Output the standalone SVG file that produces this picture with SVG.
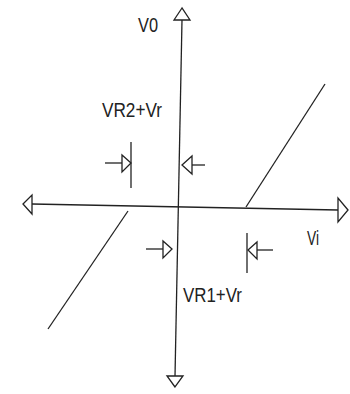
<svg xmlns="http://www.w3.org/2000/svg" width="350" height="394" viewBox="0 0 350 394">
<style>
.ln{stroke:#222;stroke-width:1.3;fill:none}
.ah{stroke:#222;stroke-width:1.3;fill:#fff;stroke-linejoin:miter}
.t{font-family:"Liberation Sans",Arial,sans-serif;font-size:20px;fill:#222}
</style>
<rect width="350" height="394" fill="#fff"/>
<g id="connectors">
<line class="ln" x1="182" y1="20" x2="175" y2="376"/>
<line class="ln" x1="32" y1="204" x2="338" y2="210" stroke-width="1.6"/>
<line class="ln" x1="325" y1="84" x2="246" y2="207"/>
<line class="ln" x1="128" y1="211" x2="48" y2="329"/>
</g>
<g id="axis-arrows">
<polygon class="ah" points="182,8 174,20 190,20"/>
<polygon class="ah" points="175,387 167,376 183,376"/>
<polygon class="ah" points="23,204 32,195 32,214"/>
<polygon class="ah" points="348,210 338,198 338,222"/>
</g>
<g id="marker-ul">
<line class="ln" x1="131" y1="142" x2="131" y2="188"/>
<line class="ln" x1="105" y1="163" x2="122" y2="163"/>
<polygon class="ah" points="131,163 122,155 122,172"/>
</g>
<g id="marker-ur">
<line class="ln" x1="192" y1="165" x2="205" y2="165"/>
<polygon class="ah" points="182,165 192,156 192,174"/>
</g>
<g id="marker-ll">
<line class="ln" x1="146" y1="249" x2="163" y2="249"/>
<polygon class="ah" points="172,249 163,241 163,258"/>
</g>
<g id="marker-lr">
<line class="ln" x1="247" y1="233" x2="247" y2="273"/>
<line class="ln" x1="257" y1="250" x2="273" y2="250"/>
<polygon class="ah" points="248,250 257,242 257,259"/>
</g>
<g id="labels">
<text class="t" x="138" y="32" textLength="20" lengthAdjust="spacingAndGlyphs">V0</text>
<text class="t" x="102" y="117" textLength="60" lengthAdjust="spacingAndGlyphs">VR2+Vr</text>
<text class="t" x="307" y="245" textLength="12" lengthAdjust="spacingAndGlyphs">Vi</text>
<text class="t" x="183" y="302" textLength="59" lengthAdjust="spacingAndGlyphs">VR1+Vr</text>
</g>
</svg>
